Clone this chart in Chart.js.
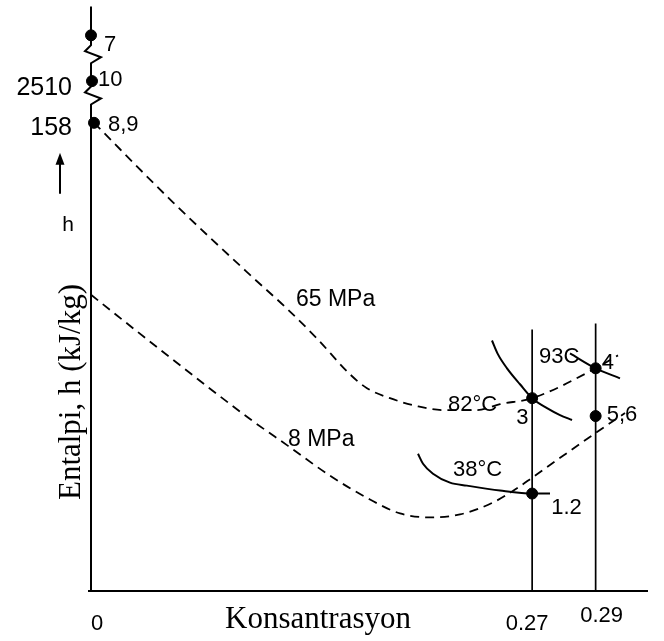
<!DOCTYPE html>
<html>
<head>
<meta charset="utf-8">
<script src="https://cdn.jsdelivr.net/npm/chart.js@4.4.1/dist/chart.umd.min.js"></script>
<style>
  html, body { margin: 0; padding: 0; background: #fff; }
  canvas { display: block; }
</style>
</head>
<body>
<canvas id="chart" width="664" height="641"></canvas>
<script>
// schematic units: x 0..100 (concentration axis), y 0..100 (enthalpy axis)
const xTickValues = [0, 79.2, 90.6];
const xTickLabels = ['0', '0.27', '0.29'];
const yTickValues = [80.1, 87.24];
const yTickLabels = ['158', '2510'];

// 65 MPa isobar
const p65X = [0.54, 14.72, 28.55, 35.19, 40.57, 46.5, 49.55, 53.68, 58.53, 63.2, 69.3, 73.43, 79.2, 90.6, 94.61];
const p65Y = [80.1, 66.5, 54.08, 48.3, 43.2, 37.07, 34.69, 32.99, 31.63, 30.95, 30.95, 31.97, 32.99, 38.1, 40.31];
// 8 MPa isobar
const p8X = [0, 14.18, 28.55, 35.37, 42.91, 50.09, 55.48, 60.86, 66.25, 72.17, 76.66, 79.2, 84.74, 90.6, 95.87];
const p8Y = [50.68, 39.97, 29.42, 24.83, 19.73, 15.65, 13.27, 12.59, 13.1, 15.14, 17.69, 19.39, 23.13, 27.04, 30.44];
// isotherms
const t82X = [71.99, 73.07, 74.69, 77.02, 79.2, 81.87, 84.2, 86.36];
const t82Y = [42.86, 40.48, 38.1, 35.37, 32.99, 31.29, 30.1, 29.25];
const t93X = [86.0, 90.6, 94.97];
const t93Y = [40.65, 38.1, 36.39];
const t38X = [58.71, 59.61, 61.4, 64.45, 67.5, 73.43, 79.35, 82.41];
const t38Y = [23.47, 21.77, 20.07, 18.54, 18.03, 17.18, 16.67, 16.67];
// constant concentration lines (top ends)
const conc027Top = 44.73;
const conc029Top = 45.75;

// state points
const pointNames = ['7', '10', '8,9', '3', '4', '5,6', '1.2'];
const pointX = [0, 0.18, 0.54, 79.2, 90.6, 90.6, 79.2];
const pointY = [95.07, 87.24, 80.1, 32.99, 38.1, 29.93, 16.67];

// curve labels
const curveLabels = ['65 MPa', '8 MPa', '82°C', '93C', '38°C'];
const curveLabelX = [36.8, 35.37, 64.09, 80.43, 64.99];
const curveLabelY = [48.81, 24.83, 30.78, 38.95, 19.73];

// y-axis breaks
const yBreaks = [91.84, 84.78];

const SANS = '"Liberation Sans", Arial, sans-serif';
const SERIF = '"Liberation Serif", "Times New Roman", serif';

const toXY = (xs, ys) => xs.map((x, i) => ({ x: x, y: ys[i] }));

function curve(xs, ys, dashed) {
    return {
        type: 'line',
        data: toXY(xs, ys),
        borderColor: '#000',
        borderWidth: dashed ? 1.8 : 2,
        borderDash: dashed ? [9, 6] : [],
        pointRadius: 0,
        cubicInterpolationMode: 'monotone',
        fill: false,
        clip: false
    };
}

function vline(x, top) {
    return {
        type: 'line',
        data: [{ x: x, y: 0 }, { x: x, y: top }],
        borderColor: '#000',
        borderWidth: 1.7,
        pointRadius: 0,
        fill: false,
        clip: false
    };
}

const labelOffsets = {
    '7': [13, 16], '10': [6, 5], '8,9': [14, 8], '3': [-16, 26],
    '4': [6, 1], '5,6': [11, 5], '1.2': [19, 20]
};

const drawing = {
    id: 'drawing',
    afterDraw(chart) {
        const c = chart.ctx;
        const xs = chart.scales.x, ys = chart.scales.y;
        const area = chart.chartArea;
        const x0 = xs.getPixelForValue(0);
        const yb = ys.getPixelForValue(0);
        c.save();
        c.strokeStyle = '#000';
        c.fillStyle = '#000';
        c.lineWidth = 2;

        // x axis
        c.beginPath();
        c.moveTo(x0 - 3, yb);
        c.lineTo(area.right, yb);
        c.stroke();

        // y axis with two breaks
        c.beginPath();
        c.moveTo(x0, yb);
        yBreaks.slice().sort((a, b) => a - b).forEach(v => {
            const cy = ys.getPixelForValue(v);
            c.lineTo(x0, cy + 9);
            c.lineTo(x0 + 10, cy + 3);
            c.lineTo(x0 - 6, cy - 3);
            c.lineTo(x0, cy - 9);
        });
        c.lineTo(x0, area.top);
        c.stroke();

        // x tick labels
        c.font = '22px ' + SANS;
        c.textAlign = 'center';
        c.textBaseline = 'alphabetic';
        const xtOff = [[6, 39], [-5, 39], [6, 31]];
        xTickValues.forEach((v, i) => {
            c.fillText(xTickLabels[i], xs.getPixelForValue(v) + xtOff[i][0], yb + xtOff[i][1]);
        });

        // y tick labels
        c.font = '25px ' + SANS;
        c.textAlign = 'right';
        yTickValues.forEach((v, i) => {
            c.fillText(yTickLabels[i], x0 - 19, ys.getPixelForValue(v) + 12 + i * 2);
        });

        // arrow + h
        const ay = ys.getPixelForValue(yTickValues[0]);
        const ax = x0 - 31;
        c.lineWidth = 2;
        c.beginPath();
        c.moveTo(ax, ay + 71);
        c.lineTo(ax, ay + 40);
        c.stroke();
        c.beginPath();
        c.moveTo(ax, ay + 30);
        c.lineTo(ax - 4.5, ay + 42);
        c.lineTo(ax + 4.5, ay + 42);
        c.closePath();
        c.fill();
        c.font = '21px ' + SANS;
        c.textAlign = 'center';
        c.fillText('h', ax + 8, ay + 108);

        // axis titles
        c.font = '31px ' + SERIF;
        c.textAlign = 'center';
        c.fillText('Konsantrasyon', 318, yb + 37);
        c.save();
        c.translate(x0 - 11, 392);
        c.rotate(-Math.PI / 2);
        c.fillText('Entalpi, h (kJ/kg)', 0, 0);
        c.restore();

        // curve labels
        c.textAlign = 'left';
        curveLabels.forEach((t, i) => {
            c.font = (i < 2 ? '23px ' : '22px ') + SANS;
            c.fillText(t, xs.getPixelForValue(curveLabelX[i]), ys.getPixelForValue(curveLabelY[i]));
        });

        // state point labels
        c.font = '22px ' + SANS;
        pointNames.forEach((t, i) => {
            const o = labelOffsets[t];
            c.fillText(t, xs.getPixelForValue(pointX[i]) + o[0], ys.getPixelForValue(pointY[i]) + o[1]);
        });
        c.restore();
    }
};

new Chart(document.getElementById('chart'), {
    type: 'scatter',
    data: {
        datasets: [
            curve(p65X, p65Y, true),
            curve(p8X, p8Y, true),
            curve(t82X, t82Y, false),
            curve(t93X, t93Y, false),
            curve(t38X, t38Y, false),
            vline(xTickValues[1], conc027Top),
            vline(xTickValues[2], conc029Top),
            {
                type: 'scatter',
                data: toXY(pointX, pointY),
                backgroundColor: '#000',
                borderColor: '#000',
                pointRadius: 5.5,
                clip: false
            }
        ]
    },
    options: {
        responsive: false,
        animation: false,
        layout: { padding: { left: 91, right: 16, top: 3, bottom: 50 } },
        plugins: { legend: { display: false }, tooltip: { enabled: false } },
        scales: {
            x: { type: 'linear', min: 0, max: 100, display: false },
            y: { type: 'linear', min: 0, max: 100, display: false }
        }
    },
    plugins: [drawing]
});
</script>
</body>
</html>
